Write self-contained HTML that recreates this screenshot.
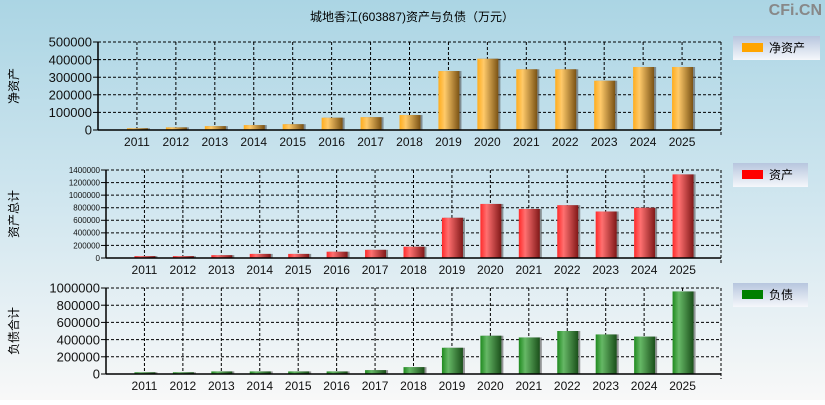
<!DOCTYPE html>
<html><head><meta charset="utf-8"><style>
html,body{margin:0;padding:0;}
body{width:825px;height:400px;overflow:hidden;font-family:"Liberation Sans","Noto Sans CJK SC",sans-serif;}
</style></head><body>
<svg id="c" width="825" height="400" xmlns="http://www.w3.org/2000/svg">
<defs>
<linearGradient id="bg" x1="0" y1="0" x2="0" y2="1"><stop offset="0" stop-color="#abd5e4"/><stop offset="0.5" stop-color="#d0e6ef"/><stop offset="1" stop-color="#f8f8f8"/></linearGradient>
<linearGradient id="go" x1="0" x2="1"><stop offset="0" stop-color="#ffac1c"/><stop offset="0.3" stop-color="#ffca6a"/><stop offset="1" stop-color="#7a5214"/></linearGradient>
<linearGradient id="gr" x1="0" x2="1"><stop offset="0" stop-color="#ff2a2a"/><stop offset="0.3" stop-color="#ff7070"/><stop offset="1" stop-color="#801818"/></linearGradient>
<linearGradient id="gg" x1="0" x2="1"><stop offset="0" stop-color="#1f8a1f"/><stop offset="0.3" stop-color="#66b866"/><stop offset="1" stop-color="#1a4f1a"/></linearGradient>
<linearGradient id="lg" x1="0" y1="0" x2="0" y2="1"><stop offset="0" stop-color="#b7c6de"/><stop offset="1" stop-color="#f5f7fb"/></linearGradient>
</defs>
<rect width="825" height="400" fill="url(#bg)"/>
<text x="412" y="21" font-size="12" text-anchor="middle">城地香江(603887)资产与负债（万元）</text>
<text x="822" y="15" font-size="16" font-weight="bold" fill="#888" text-anchor="end">CFi.CN</text>
</svg>
<script>
const years=["2011","2012","2013","2014","2015","2016","2017","2018","2019","2020","2021","2022","2023","2024","2025"];
const netAssets=[10000,15000,22000,28000,33000,70000,73000,85000,335000,405000,345000,345000,280000,358000,358000];
const totalAssets=[30000,30000,45000,65000,65000,100000,130000,180000,640000,860000,780000,840000,740000,800000,1330000];
const liabilities=[20000,20000,30000,30000,30000,30000,45000,80000,305000,445000,425000,500000,460000,435000,960000];
const ticks1=[0,100000,200000,300000,400000,500000];
const ticks2=[0,200000,400000,600000,800000,1000000,1200000,1400000];
const ticks3=[0,200000,400000,600000,800000,1000000];
const NS="http://www.w3.org/2000/svg";
const svg=document.getElementById('c');
function el(t,a,p){const e=document.createElementNS(NS,t);for(const k in a)e.setAttribute(k,a[k]);(p||svg).appendChild(e);return e;}
function panel(o){
  const g=el('g',{});
  
  
  const L=o.left,R=721,T=o.top,B=o.bottom,max=o.ticks[o.ticks.length-1];
  const step=(R-L)/16;
  const y=v=>B-(v/max)*(B-T);
  const x=i=>L+(i+1)*step;
  // grid
  o.ticks.forEach(t=>{
    if(t>0){const l=el('line',{x1:L,x2:R,y1:y(t),y2:y(t),stroke:'#000','stroke-dasharray':'3,2','stroke-width':1},g);
    }
    const tk=el('line',{x1:L-5,x2:L,y1:y(t),y2:y(t),stroke:'#000'},g);
    const tx=el('text',{x:L-6,y:y(t)+o.fs*0.36,'font-size':o.fs,'text-anchor':'end',fill:'#111'},g);
    tx.textContent=String(t);
    
    
  });
  years.forEach((yr,i)=>{
    const l=el('line',{x1:x(i),x2:x(i),y1:T,y2:B,stroke:'#000','stroke-dasharray':'3,2'},g);
    
  });
  el('line',{x1:R,x2:R,y1:T,y2:B+5,stroke:'#000','stroke-dasharray':'3,2'},g);
  // bars
  o.data.forEach((v,i)=>{
    const bx=x(i)-10,by=y(v),h=B-by;
    const sh=el('rect',{x:bx+2,y:by,width:21,height:h,fill:'#555',opacity:0.6},g);
    const r=el('rect',{x:bx,y:by,width:21,height:h,fill:o.grad},g);
    
    
  });
  el('line',{x1:L,x2:L,y1:T,y2:B,stroke:'#000','stroke-width':1.5},g);
  el('line',{x1:L,x2:R,y1:B,y2:B,stroke:'#000','stroke-width':1.5},g);
  years.forEach((yr,i)=>{
    const tx=el('text',{x:x(i),y:B+16,'font-size':12,'text-anchor':'middle',fill:'#111'},g);
    tx.textContent=yr;
    
    
  });
  const yt=el('text',{x:0,y:0,'font-size':12,'text-anchor':'middle',transform:`translate(18,${(T+B)/2}) rotate(-90)`},g);
  yt.textContent=o.title;
  
  
  const lg=el('g',{},g);
  
  
  el('rect',{x:733,y:o.ly,width:o.lw,height:24,fill:'url(#lg)'},lg);
  el('rect',{x:742,y:o.ly+7,width:21,height:9,fill:o.color},lg);
  const lt=el('text',{x:769,y:o.ly+16,'font-size':12},lg);
  lt.textContent=o.label;
}
panel({name:'net-assets',left:98,top:42,bottom:130,ticks:ticks1,data:netAssets,grad:'url(#go)',fs:13,title:'净资产',label:'净资产',color:'#ffa500',ly:36,lw:87});
panel({name:'total-assets',left:106,top:170,bottom:258,ticks:ticks2,data:totalAssets,grad:'url(#gr)',fs:8,title:'资产总计',label:'资产',color:'#ff0000',ly:163,lw:75});
panel({name:'liabilities',left:106,top:288,bottom:374,ticks:ticks3,data:liabilities,grad:'url(#gg)',fs:13,title:'负债合计',label:'负债',color:'#008000',ly:283,lw:75});
</script>
</body></html>
